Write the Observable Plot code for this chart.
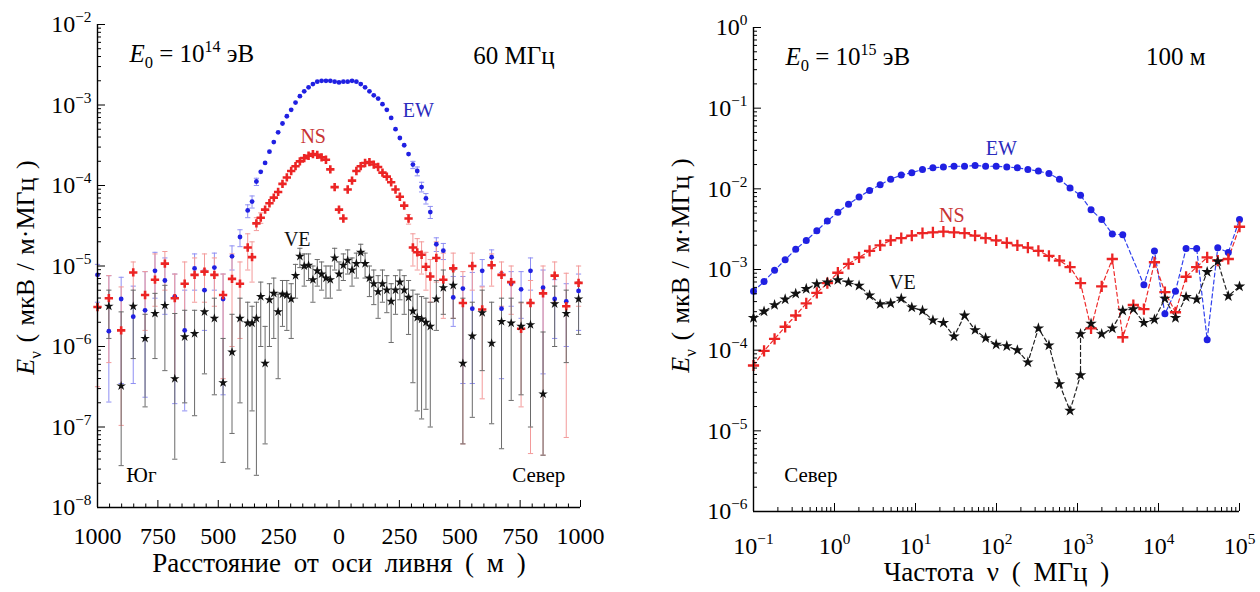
<!DOCTYPE html>
<html><head><meta charset="utf-8">
<script src="https://cdn.jsdelivr.net/npm/d3@7"></script>
<script src="https://cdn.jsdelivr.net/npm/@observablehq/plot@0.6"></script>
<style>
html,body{margin:0;padding:0;background:#fff;}
#wrap{position:relative;width:1260px;height:592px;overflow:hidden;background:#fff;}
#left{position:absolute;left:0;top:0;}
#right{position:absolute;left:630px;top:0;}
svg{overflow:visible}
</style></head><body>
<div id="wrap"><div id="left"></div><div id="right"></div></div>
<script>
// ---------- LEFT PANEL: lateral distribution at 60 MHz (values are log10 of E, мкВ/м·МГц) ----------
const distance = [-1000,-953,-902,-852,-803,-762,-721,-680,-639,-598,-557,-516,-480,-443,-410,
 -378,-360,-342,-324,-306,-288,-270,-252,-234,-216,-198,-180,-162,-144,-126,-108,-90,-72,-54,-36,-18,0,18,36,54,72,90,108,126,144,162,180,198,216,234,252,270,288,306,324,342,360,378,
 403,432,473,513,552,593,632,673,713,754,793,845,893,941,992];

const ewLog = [-5.11,-5.81,-5.41,-5.63,-5.55,-5.06,-5.18,-5.38,-5.80,-5.03,-5.30,-5.02,-5.41,-4.88,-4.64,
 -4.31,-4.20,-3.95,-3.83,-3.72,-3.58,-3.46,-3.34,-3.23,-3.14,-3.06,-2.97,-2.89,-2.83,-2.78,-2.74,-2.71,-2.70,-2.70,-2.70,-2.71,-2.72,-2.71,-2.71,-2.70,-2.71,-2.74,-2.78,-2.83,-2.88,-2.92,-2.99,-3.06,-3.16,-3.30,-3.41,-3.50,-3.61,-3.74,-3.82,-4.02,-4.16,-4.33,
 -4.73,-4.81,-5.39,-5.28,-5.53,-5.06,-4.89,-5.53,-5.22,-5.29,-5.06,-5.27,-5.41,-5.44,-5.31];
const ewHiLog = [-4.98,-5.12,-5.14,-5.25,-5.07,-4.83,-4.90,-5.10,-5.30,-4.85,-5.05,-4.84,-5.10,-4.75,-4.55,
 -4.24,-4.13,-3.91,null,null,null,null,null,null,null,null,null,null,null,null,null,null,null,null,null,null,null,null,null,null,null,null,null,null,null,null,null,null,null,null,null,null,null,-3.70,-3.77,-3.96,-4.10,-4.26,
 -4.65,-4.72,-5.13,-5.13,-5.08,-4.92,-4.80,-5.08,-5.07,-5.07,-4.90,-5.05,-5.17,-5.22,-5.10];
const ewLoLog = [-5.45,-6.69,-6.46,-6.46,-6.63,-5.40,-5.60,-6.71,-6.80,-5.30,-5.80,-5.30,-6.60,-5.05,-4.76,
 -4.40,-4.28,-4.00,null,null,null,null,null,null,null,null,null,null,null,null,null,null,null,null,null,null,null,null,null,null,null,null,null,null,null,null,null,null,null,null,null,null,null,-3.79,-3.88,-4.08,-4.23,-4.41,
 -4.82,-4.92,-5.75,-6.46,-6.46,-5.25,-5.00,-6.40,-5.50,-5.65,-5.30,-6.34,-5.90,-6.00,-5.80];

const nsLog = [-5.51,-5.40,-5.80,-5.08,-5.36,-5.17,-4.97,-5.40,-5.22,-5.11,-5.07,-5.11,-5.36,-5.16,-5.22,
 -4.77,-4.89,-4.47,-4.40,-4.30,-4.22,-4.15,-4.08,-3.98,-3.90,-3.82,-3.76,-3.70,-3.66,-3.63,-3.61,-3.62,-3.65,-3.68,-3.80,-4.02,-4.30,-4.41,-4.05,-3.94,-3.82,-3.76,-3.72,-3.71,-3.74,-3.77,-3.84,-3.89,-3.96,-4.05,-4.14,-4.25,-4.41,-4.77,-4.83,-4.86,-5.01,-5.13,
 -4.90,-5.17,-5.03,-5.46,-5.00,-5.54,-4.99,-5.11,-5.20,-5.78,-5.46,-5.34,-5.12,-5.50,-5.21];
const nsHiLog = [-5.12,-5.12,-5.26,-4.95,-5.07,-4.85,-4.82,-5.10,-4.95,-4.90,-4.85,-4.90,-5.10,-4.85,-4.95,
 -4.60,-4.70,-4.40,-4.34,null,null,null,null,null,null,null,null,null,null,null,null,null,null,null,null,null,null,null,null,null,null,null,null,null,null,null,null,null,null,null,null,null,-4.36,-4.60,-4.66,-4.70,-4.83,-4.92,
 -4.70,-4.84,-4.84,-5.07,-4.84,-5.26,-4.85,-4.95,-5.00,-5.46,-5.18,-5.00,-4.95,-5.09,-5.00];
const nsLoLog = [-6.50,-6.20,-6.98,-5.50,-5.80,-5.50,-5.30,-6.40,-5.80,-5.45,-5.45,-5.50,-6.40,-6.00,-5.90,
 -5.05,-5.20,-4.56,-4.47,null,null,null,null,null,null,null,null,null,null,null,null,null,null,null,null,null,null,null,null,null,null,null,null,null,null,null,null,null,null,null,null,null,-4.48,-5.00,-5.05,-5.10,-5.30,-5.45,
 -5.20,-5.65,-5.65,-7.21,-5.30,-6.65,-5.25,-5.50,-5.60,-6.75,-7.33,-7.35,-5.45,-7.13,-5.50];

const veLog = [null,-5.50,-6.49,-5.50,-5.90,-5.59,-5.49,-6.40,-5.88,-5.84,-5.57,-5.65,-6.45,-6.07,-5.65,
 -5.71,-5.71,-5.65,-5.38,-6.21,-5.42,-5.34,-5.57,-5.35,-5.36,-5.41,-5.12,-4.88,-5.00,-4.99,-5.17,-5.06,-5.10,-5.15,-5.17,-4.90,-5.10,-4.99,-4.93,-5.05,-4.97,-4.83,-4.97,-5.15,-5.22,-5.32,-5.22,-5.30,-5.44,-5.30,-5.20,-5.30,-5.39,-5.56,-5.64,-5.66,-5.70,-5.75,
 -5.41,-5.27,-5.24,-6.21,-5.87,-5.58,-5.96,-5.69,-5.71,-5.75,-5.73,-6.59,-5.47,-5.59,-5.41];
const veHiLog = [null,-5.30,-5.57,-5.30,-5.60,-5.34,-5.24,-5.59,-5.55,-5.55,-5.30,-5.40,-5.90,-5.60,-5.40,
 -5.45,-5.50,-5.45,-5.20,-5.75,-5.22,-5.15,-5.35,-5.18,-5.18,-5.22,-4.98,-4.78,-4.85,-4.85,-5.00,-4.92,-4.95,-5.00,-5.00,-4.78,-4.95,-4.85,-4.80,-4.90,-4.84,-4.73,-4.84,-5.00,-5.05,-5.12,-5.05,-5.12,-5.22,-5.12,-5.05,-5.12,-5.18,-5.30,-5.35,-5.38,-5.40,-5.45,
 -5.18,-5.05,-5.05,-5.40,-5.45,-5.30,-5.45,-5.40,-5.40,-5.45,-5.45,-5.82,-5.25,-5.30,-5.20];
const veLoLog = [null,-5.90,-7.48,-6.15,-6.75,-6.15,-6.30,-7.40,-6.70,-6.86,-6.34,-6.60,-7.44,-7.08,-6.70,
 -7.52,-6.80,-7.60,-6.00,-7.21,-6.00,-5.90,-6.40,-5.75,-5.80,-5.90,-5.40,-5.02,-5.25,-5.18,-5.45,-5.25,-5.30,-5.40,-5.40,-5.05,-5.30,-5.18,-5.10,-5.25,-5.15,-4.96,-5.15,-5.38,-5.48,-5.65,-5.45,-5.58,-5.95,-5.60,-5.42,-5.60,-5.85,-6.45,-6.80,-6.90,-6.78,-7.00,
 -5.80,-5.60,-5.65,-7.21,-6.88,-6.30,-6.96,-7.27,-6.67,-6.60,-7.00,-7.35,-6.00,-6.20,-5.85];

// ---------- RIGHT PANEL: spectrum at 100 m (values are log10 of E) ----------
const freq = [0.1,0.135,0.182,0.246,0.332,0.448,0.605,0.816,1.10,1.49,2.01,2.71,3.66,4.94,6.67,9.0,12.2,16.4,22.1,29.9,40.3,54.4,73.4,99,134,181,244,329,444,599,809,1090,1470,1990,2690,3620,4890,6600,8910,12000,16200,21900,29600,39900,53900,72700,100000];
const ewSpecLog = [-3.27,-3.15,-3.01,-2.88,-2.75,-2.64,-2.52,-2.40,-2.29,-2.19,-2.10,-2.02,-1.95,-1.88,-1.83,-1.80,-1.76,-1.74,-1.73,-1.72,-1.72,-1.71,-1.72,-1.72,-1.73,-1.74,-1.76,-1.78,-1.81,-1.88,-1.99,-2.08,-2.26,-2.38,-2.56,-2.57,null,-3.19,-2.77,-3.55,-3.27,-2.74,-2.74,-3.87,-2.73,-2.79,-2.38];
const nsSpecLog = [-4.19,-4.01,-3.86,-3.71,-3.57,-3.42,-3.29,-3.17,-3.04,-2.93,-2.85,-2.77,-2.70,-2.64,-2.61,-2.58,-2.55,-2.54,-2.53,-2.54,-2.55,-2.58,-2.61,-2.64,-2.67,-2.70,-2.73,-2.77,-2.83,-2.89,-2.97,-3.17,-3.73,-3.21,-2.87,-3.84,-3.44,-3.49,-2.91,-3.28,-3.53,-3.09,-2.97,-2.85,-2.89,-2.87,-2.47];
const veFreq = [0.1,0.135,0.182,0.246,0.332,0.448,0.605,0.816,1.10,1.49,2.01,2.71,3.66,4.94,6.67,9.0,12.2,16.4,22.1,29.9,40.3,54.4,73.4,99,134,181,244,329,444,599,809,1090,1090,1470,1990,2690,3620,4890,6600,8910,12000,16200,21900,29600,39900,53900,72700,100000];
const veSpecLog = [-3.60,-3.52,-3.44,-3.37,-3.30,-3.24,-3.18,-3.16,-3.13,-3.16,-3.20,-3.32,-3.43,-3.42,-3.36,-3.47,-3.51,-3.63,-3.66,-3.83,-3.57,-3.75,-3.85,-3.93,-3.95,-4.00,-4.15,-3.73,-3.94,-4.42,-4.75,-4.31,-3.80,-3.67,-3.80,-3.73,-3.51,-3.49,-3.66,-3.62,-3.36,-3.60,-3.34,-3.37,-3.03,-2.90,-3.33,-3.21];

// ---------- helpers ----------
const FONT = "'Liberation Serif','Times New Roman','DejaVu Serif',serif";
const p10 = v => (v == null ? null : Math.pow(10, v));
function rows(xs, v, hi, lo) {
  return xs.map((x, i) => ({x, y: p10(v[i]), hi: hi ? p10(hi[i]) : null, lo: lo ? p10(lo[i]) : null}))
           .filter(d => d.y != null);
}
const hline = {draw(ctx, size) { const r = Math.sqrt(size / Math.PI); ctx.moveTo(-r, 0); ctx.lineTo(r, 0); }};
const fmtPow = d => "10^{" + String(Math.round(Math.log10(d))).replace("-", "\u2212") + "}";
const decadeMinors = (lo, hi) => { const out = []; for (let e = lo; e < hi; e++) for (let m = 2; m <= 9; m++) out.push(m * Math.pow(10, e)); return out; };
const decades = (lo, hi) => { const out = []; for (let e = lo; e <= hi; e++) out.push(Math.pow(10, e)); return out; };

const COL = {EW: "#2020e2", NS: "#ec2424", VE: "#111111"};
const BAR = {EW: "#8f8ff3", NS: "#f39a9a", VE: "#6a6a6a"};
const LBL = {EW: "#2b2bbd", NS: "#c83434", VE: "#111111"};
const YTITLE = "*E*_{ν} ( мкВ / м·МГц )";

// ---------- left plot ----------
const L = {
  EW: rows(distance, ewLog, ewHiLog, ewLoLog),
  NS: rows(distance, nsLog, nsHiLog, nsLoLog),
  VE: rows(distance, veLog, veHiLog, veLoLog)
};
const barMarks = [];
for (const s of ["EW", "NS", "VE"]) {
  const b = L[s].filter(d => d.hi != null && d.lo != null);
  barMarks.push(Plot.ruleX(b, {x: "x", y1: "lo", y2: "hi", stroke: BAR[s], strokeWidth: 1}));
  barMarks.push(Plot.dot(b, {x: "x", y: "hi", symbol: hline, r: 2.6, stroke: BAR[s], strokeWidth: 1}));
  barMarks.push(Plot.dot(b, {x: "x", y: "lo", symbol: hline, r: 2.6, stroke: BAR[s], strokeWidth: 1}));
}
const xMajorL = [-1000,-750,-500,-250,0,250,500,750,1000];
const xMinorL = d3.range(-1000, 1001, 50).filter(v => v % 250 !== 0);

const leftPlot = Plot.plot({
  width: 630, height: 592, marginLeft: 97, marginRight: 50, marginTop: 24, marginBottom: 85,
  style: {fontFamily: FONT, fontSize: "24px", background: "transparent", color: "#000", overflow: "visible"},
  x: {domain: [-1000, 1000], label: null},
  y: {type: "log", domain: [1e-8, 1e-2], label: null},
  marks: [
    ...barMarks,
    Plot.dot(L.EW, {x: "x", y: "y", r: 2.4, fill: COL.EW}),
    Plot.dot(L.NS, {x: "x", y: "y", symbol: "plus", r: 2.8, stroke: COL.NS, strokeWidth: 2.6}),
    Plot.dot(L.VE, {x: "x", y: "y", symbol: "star", r: 3.0, fill: COL.VE}),
    Plot.axisY({ticks: decades(-8, -2), tickSize: -8, tickPadding: 14, tickFormat: fmtPow, label: null}),
    Plot.axisY({ticks: decadeMinors(-8, -2), tickSize: -4, tickFormat: () => "", label: null}),
    Plot.axisX({ticks: xMajorL, tickSize: -7, tickPadding: 26, tickFormat: d => String(Math.abs(d)), label: null}),
    Plot.axisX({ticks: xMinorL, tickSize: -3.5, tickFormat: () => "", label: null}),
    Plot.ruleX([-1000], {strokeWidth: 1.4}),
    Plot.ruleY([1e-8], {strokeWidth: 1.4}),
    Plot.text([{x: -868, y: 4.36e-3, t: "*E*_{0} = 10^{14} эВ"}], {x: "x", y: "y", text: "t", textAnchor: "start", fontSize: 25}),
    Plot.text([{x: 893, y: 4.1e-3, t: "60 МГц"}], {x: "x", y: "y", text: "t", textAnchor: "end", fontSize: 25}),
    Plot.text([{x: 328, y: 8.5e-4, t: "EW"}], {x: "x", y: "y", text: "t", fontSize: 20, fill: LBL.EW}),
    Plot.text([{x: -107, y: 4.0e-4, t: "NS"}], {x: "x", y: "y", text: "t", fontSize: 20, fill: LBL.NS}),
    Plot.text([{x: -173, y: 2.1e-5, t: "VE"}], {x: "x", y: "y", text: "t", fontSize: 20, fill: LBL.VE}),
    Plot.text([{x: -818, y: 2.5e-8, t: "Юг"}], {x: "x", y: "y", text: "t", fontSize: 21}),
    Plot.text([{x: 827, y: 2.5e-8, t: "Север"}], {x: "x", y: "y", text: "t", fontSize: 21}),
    Plot.text(["Расстояние от оси ливня ( м )"], {frameAnchor: "bottom", dy: 64, fontSize: 27}),
    Plot.text([YTITLE], {frameAnchor: "left", dx: -72, rotate: -90, fontSize: 26})
  ]
});

// ---------- right plot ----------
const R = {
  EW: rows(freq, ewSpecLog),
  NS: rows(freq, nsSpecLog),
  VE: rows(veFreq, veSpecLog)
};
const rightPlot = Plot.plot({
  width: 630, height: 592, marginLeft: 123, marginRight: 21, marginTop: 27, marginBottom: 81,
  style: {fontFamily: FONT, fontSize: "24px", background: "transparent", color: "#000", overflow: "visible"},
  x: {type: "log", domain: [0.1, 1e5], label: null},
  y: {type: "log", domain: [1e-6, 1], label: null},
  marks: [
    Plot.line(R.EW, {x: "x", y: "y", stroke: "#3040ee", strokeWidth: 1.2, strokeDasharray: "4,3"}),
    Plot.line(R.NS, {x: "x", y: "y", stroke: "#ee2a2a", strokeWidth: 1.2, strokeDasharray: "4,3"}),
    Plot.line(R.VE, {x: "x", y: "y", stroke: "#222", strokeWidth: 1.2, strokeDasharray: "4,3"}),
    Plot.dot(R.EW, {x: "x", y: "y", r: 3.5, fill: COL.EW}),
    Plot.dot(R.NS, {x: "x", y: "y", symbol: "plus", r: 3.7, stroke: COL.NS, strokeWidth: 2.3}),
    Plot.dot(R.VE, {x: "x", y: "y", symbol: "star", r: 3.6, fill: COL.VE}),
    Plot.axisY({ticks: decades(-6, 0), tickSize: -8, tickPadding: 14, tickFormat: fmtPow, label: null}),
    Plot.axisY({ticks: decadeMinors(-6, 0), tickSize: -4, tickFormat: () => "", label: null}),
    Plot.axisX({ticks: decades(-1, 5), tickSize: -8, tickPadding: 33, tickFormat: fmtPow, label: null}),
    Plot.axisX({ticks: decadeMinors(-1, 5), tickSize: -4, tickFormat: () => "", label: null}),
    Plot.ruleX([0.1], {strokeWidth: 1.4}),
    Plot.ruleY([1e-6], {strokeWidth: 1.4}),
    Plot.text([{x: 0.248, y: 0.43, t: "*E*_{0} = 10^{15} эВ"}], {x: "x", y: "y", text: "t", textAnchor: "start", fontSize: 25}),
    Plot.text([{x: 3.8e4, y: 0.43, t: "100 м"}], {x: "x", y: "y", text: "t", textAnchor: "end", fontSize: 25}),
    Plot.text([{x: 115, y: 0.0316, t: "EW"}], {x: "x", y: "y", text: "t", fontSize: 20, fill: LBL.EW}),
    Plot.text([{x: 28, y: 4.7e-3, t: "NS"}], {x: "x", y: "y", text: "t", fontSize: 20, fill: LBL.NS}),
    Plot.text([{x: 6.9, y: 6.8e-4, t: "VE"}], {x: "x", y: "y", text: "t", fontSize: 20, fill: LBL.VE}),
    Plot.text([{x: 0.51, y: 2.8e-6, t: "Север"}], {x: "x", y: "y", text: "t", fontSize: 21}),
    Plot.text(["Частота ν ( МГц )"], {frameAnchor: "bottom", dy: 69, fontSize: 27}),
    Plot.text([YTITLE], {frameAnchor: "left", dx: -73, rotate: -90, fontSize: 26})
  ]
});

document.getElementById("left").appendChild(leftPlot);
document.getElementById("right").appendChild(rightPlot);

// rich text: ^{sup}, _{sub}, *italic*
function richify(svg) {
  svg.querySelectorAll("text").forEach(el => {
    const s = el.textContent;
    if (/^(Расстояние|Частота)/.test(s)) el.style.wordSpacing = "6px";
    if (s === YTITLE) el.style.wordSpacing = "2px";
    if (!/[\^_*]/.test(s)) return;
    const fs = parseFloat(getComputedStyle(el).fontSize) || 16;
    while (el.firstChild) el.removeChild(el.firstChild);
    const re = /\^\{([^}]*)\}|_\{([^}]*)\}|\*([^*]*)\*|([^\^_*]+)/g;
    let m;
    while ((m = re.exec(s))) {
      const t = document.createElementNS("http://www.w3.org/2000/svg", "tspan");
      let txt;
      if (m[1] != null) { txt = m[1]; t.setAttribute("baseline-shift", (0.42 * fs).toFixed(1) + "px"); t.style.fontSize = (0.64 * fs) + "px"; }
      else if (m[2] != null) { txt = m[2]; t.setAttribute("baseline-shift", (-0.25 * fs).toFixed(1) + "px"); t.style.fontSize = (0.66 * fs) + "px"; }
      else if (m[3] != null) { txt = m[3]; t.style.fontStyle = "italic"; }
      else txt = m[4];
      t.textContent = txt;
      el.appendChild(t);
    }
    if (s === YTITLE) el.dataset.ytitle = "1";
  });
}
// keep the rotated y title centred on the frame's vertical middle
function centreTitle(svg, cy) {
  const el = svg.querySelector("text[data-ytitle]");
  if (!el) return;
  const sr = svg.getBoundingClientRect(), r = el.getBoundingClientRect();
  const delta = (sr.top + cy) - (r.top + r.bottom) / 2;
  el.setAttribute("transform", `translate(0,${delta.toFixed(1)}) ` + (el.getAttribute("transform") || ""));
}
richify(leftPlot);
richify(rightPlot);
centreTitle(leftPlot, 268);
centreTitle(rightPlot, 266);
</script>
</body></html>
